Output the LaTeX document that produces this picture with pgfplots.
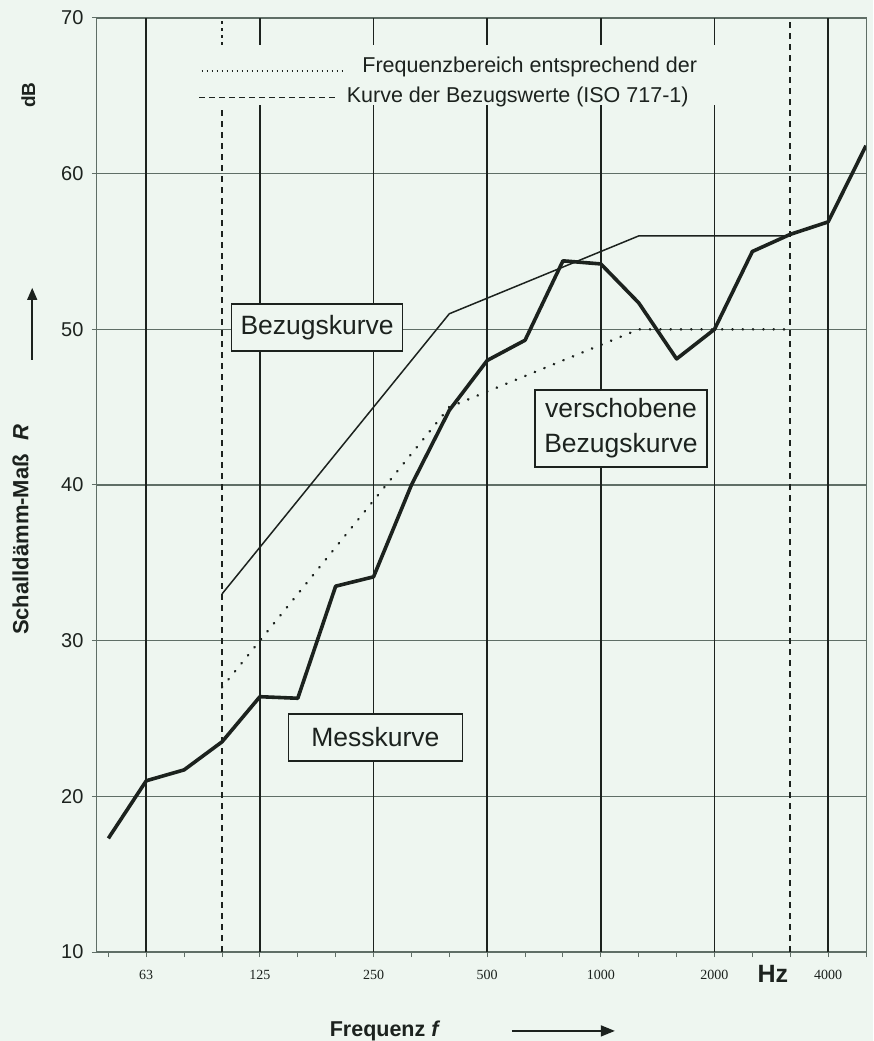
\documentclass[border=0pt]{standalone}
\usepackage{fontspec}
\setmainfont{Liberation Sans}
\newfontfamily\timesf{Liberation Serif}
\usepackage{pgfplots}
\pgfplotsset{compat=1.18}
\usetikzlibrary{arrows.meta,backgrounds}
\definecolor{bg}{RGB}{238,246,240}
\definecolor{ink}{RGB}{28,34,30}
\definecolor{gridc}{RGB}{95,110,102}
\begin{document}
\begin{tikzpicture}
\begin{axis}[
  scale only axis, width=769pt, height=934pt,
  xmin=-0.3, xmax=20, ymin=10, ymax=70,
  clip mode=individual,
  axis line style={gridc, line width=1pt},
  xtick={0,...,20},
  xticklabels={,63,,,125,,,250,,,500,,,1000,,,2000,,,4000,},
  ytick={10,20,...,70},
  xtick pos=bottom, ytick pos=left,
  ymajorgrids, grid style={gridc, line width=1.2pt},
  tick align=outside, major tick length=5pt,
  tick style={gridc, line width=1pt},
  /pgf/number format/assume math mode=true,
  yticklabel style={font=\fontsize{20}{21}\selectfont, text=ink, xshift=-5pt},
  xticklabel style={font=\timesf\fontsize{14}{15}\selectfont, text=ink, anchor=base, yshift=-22pt},
]
% octave grid lines
\draw[ink, line width=1.6pt] (axis cs:1,10) -- (axis cs:1,70);
\draw[ink, line width=1.6pt] (axis cs:19,10) -- (axis cs:19,70);
\draw[ink, line width=1.6pt] (axis cs:4,10) -- (axis cs:4,64.41);
\draw[ink, line width=1.6pt] (axis cs:4,68.27) -- (axis cs:4,70);
\draw[ink, line width=1.6pt] (axis cs:7,10) -- (axis cs:7,64.41);
\draw[ink, line width=1.6pt] (axis cs:7,68.27) -- (axis cs:7,70);
\draw[ink, line width=1.6pt] (axis cs:10,10) -- (axis cs:10,64.41);
\draw[ink, line width=1.6pt] (axis cs:10,68.27) -- (axis cs:10,70);
\draw[ink, line width=1.6pt] (axis cs:13,10) -- (axis cs:13,64.41);
\draw[ink, line width=1.6pt] (axis cs:13,68.27) -- (axis cs:13,70);
\draw[ink, line width=1.6pt] (axis cs:16,10) -- (axis cs:16,64.41);
\draw[ink, line width=1.6pt] (axis cs:16,68.27) -- (axis cs:16,70);
% frequency range limits
\draw[ink, line width=1.6pt, dash pattern=on 6pt off 5pt] (axis cs:3,10) -- (axis cs:3,64.41);
\draw[ink, line width=1.6pt, dash pattern=on 3pt off 4pt] (axis cs:3,68.27) -- (axis cs:3,70);
\draw[ink, line width=1.6pt, dash pattern=on 6pt off 5pt] (axis cs:18,10) -- (axis cs:18,70);
% Bezugskurve
\addplot[ink, line width=1.5pt, line join=round] coordinates {
(3,33) (4,36) (5,39) (6,42) (7,45) (8,48) (9,51) (10,52) (11,53) (12,54)
(13,55) (14,56) (15,56) (16,56) (17,56) (18,56)};
% verschobene Bezugskurve (-6 dB)
\addplot[ink, line width=2.6pt, line cap=round, dash pattern=on 0.3pt off 10pt] coordinates {
(3,27) (4,30) (5,33) (6,36) (7,39) (8,42) (9,45) (10,46) (11,47) (12,48)
(13,49) (14,50) (15,50) (16,50) (17,50) (18,50)};
% Messkurve
\addplot[ink, line width=3.6pt, line join=round] coordinates {
(0,17.3) (1,21.0) (2,21.7) (3,23.5) (4,26.4) (5,26.3) (6,33.5) (7,34.1)
(8,40.0) (9,44.8) (10,48.0) (11,49.3) (12,54.4) (13,54.2) (14,51.7)
(15,48.1) (16,50.0) (17,55.0) (18,56.1) (19,56.9) (20,61.8)};
% boxes
\node[draw=ink, fill=bg, line width=1.2pt, minimum width=171pt, minimum height=47pt,
  font=\fontsize{26.5}{30}\selectfont, text=ink] at (axis cs:5.51,50.12) {Bezugskurve};
\node[draw=ink, fill=bg, line width=1.2pt, minimum width=172pt, minimum height=77pt,
  align=center, font=\fontsize{26.5}{35}\selectfont, text=ink] at (axis cs:13.53,43.63) {verschobene\\Bezugskurve};
\node[draw=ink, fill=bg, line width=1.2pt, minimum width=174pt, minimum height=47pt,
  font=\fontsize{26.5}{30}\selectfont, text=ink] at (axis cs:7.05,23.78) {Messkurve};
% legend
\draw[ink, line width=1.5pt, dash pattern=on 1.5pt off 3.5pt] (axis cs:2.46,66.61) -- (axis cs:6.18,66.61);
\draw[ink, line width=1.5pt, dash pattern=on 6pt off 4pt] (axis cs:2.40,64.88) -- (axis cs:6.05,64.88);
\node[anchor=base west, inner sep=0, font=\fontsize{21.5}{24}\selectfont, text=ink] at (axis cs:6.70,66.53) {Frequenzbereich entsprechend der};
\node[anchor=base west, inner sep=0, font=\fontsize{21.5}{24}\selectfont, text=ink] at (axis cs:6.29,64.60) {Kurve der Bezugswerte (ISO 717-1)};
% axis labels
\node[rotate=90, font=\bfseries\fontsize{22}{24}\selectfont, text=ink] at (axis cs:-2.32,37.11) {Schalldämm-Maß\hspace{0.6em}\textit{R}};
\draw[ink, line width=1.5pt, -{Triangle[length=12pt,width=10pt]}] (axis cs:-2.01,48.03) -- (axis cs:-2.01,52.66);
\node[rotate=90, font=\bfseries\fontsize{19}{21}\selectfont, text=ink] at (axis cs:-2.11,65.05) {dB};
\node[anchor=base, inner sep=0, font=\bfseries\fontsize{25}{27}\selectfont, text=ink] at (axis cs:17.54,8.07) {Hz};
\node[anchor=base west, inner sep=0, font=\bfseries\fontsize{21.5}{24}\selectfont, text=ink] at (axis cs:5.84,4.60) {Frequenz \textit{f}};
\draw[ink, line width=1.5pt, -{Triangle[length=14pt,width=11pt]}] (axis cs:10.65,4.93) -- (axis cs:13.37,4.93);
% bounding box corners
\path (rel axis cs:0,0) ++(-97pt,-89pt) coordinate (bbA);
\path (rel axis cs:1,1) ++(7pt,18pt) coordinate (bbB);
\end{axis}
\begin{pgfonlayer}{background}
\fill[bg] (bbA) rectangle (bbB);
\end{pgfonlayer}
\pgfresetboundingbox
\useasboundingbox (bbA) rectangle (bbB);
\end{tikzpicture}
\end{document}
